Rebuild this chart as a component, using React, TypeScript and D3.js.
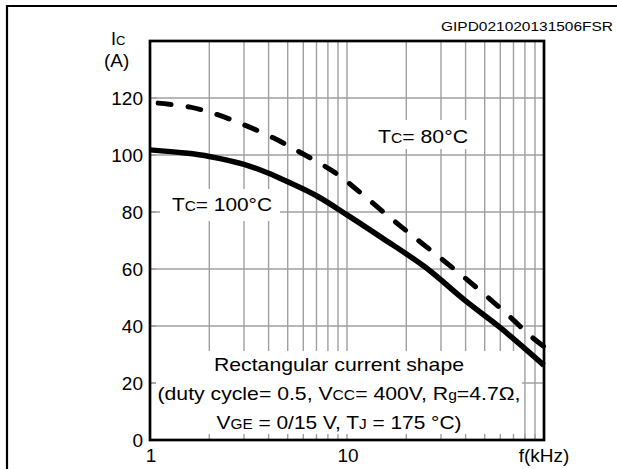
import React from 'react';
import * as d3 from 'd3';

// Tc = 100°C (solid) : f in kHz, Ic in A
const freq100 = [1, 1.5, 2, 3, 4, 5, 7, 10, 15, 25, 40, 60, 100];
const ic100 = [101.8, 100.7, 99.5, 96.7, 93.6, 90.6, 85.7, 79.0, 71.0, 60.6, 48.8, 39.4, 26.2];

// Tc = 80°C (dashed)
const freq80 = [1.1, 1.6, 2.1, 2.9, 4.2, 5.9, 8.7, 11.6, 15.4, 20.6, 27.6, 37, 49.7, 66.5, 86.8, 100];
const ic80 = [118.2, 116.8, 114.6, 111.0, 106.1, 100.6, 93.8, 87.0, 79.8, 72.7, 65.7, 58.6, 51.2, 43.5, 36.1, 32.8];

const yTicks = [0, 20, 40, 60, 80, 100, 120];
const xTickLabels = [1, 10];

const W = 617;
const H = 469;
const FONT = '"Liberation Sans", Arial, Helvetica, sans-serif';

const x = d3.scaleLog().domain([1, 100]).range([150, 544]);
const y = d3.scaleLinear().domain([0, 140]).range([440, 41]);

// minor log grid: 2..9, 10, 20..90
const xGrid = d3.range(2, 10).concat([10]).concat(d3.range(20, 100, 10));
const yGrid = yTicks.filter((v) => v > 0);

const line = d3
  .line<[number, number]>()
  .x((d) => x(d[0]))
  .y((d) => y(d[1]))
  .curve(d3.curveCatmullRom.alpha(0.5));

const path100 = line(freq100.map((f, i) => [f, ic100[i]] as [number, number])) || '';
const path80 = line(freq80.map((f, i) => [f, ic80[i]] as [number, number])) || '';

const Sub: React.FC<{ children: React.ReactNode; size?: number }> = ({ children, size = 14 }) => (
  <tspan fontSize={size}>{children}</tspan>
);

const App: React.FC = () => {
  const [x0, x1] = x.range();
  const [yb, yt] = y.range();
  const cx = 339;
  return (
    <svg
      width={W}
      height={H}
      viewBox={`0 0 ${W} ${H}`}
      style={{ position: 'absolute', left: 0, top: 0, background: '#fff' }}
      fontFamily={FONT}
    >
      {/* outer frame */}
      <path d={`M7,${H} V6 H${W}`} fill="none" stroke="#000" strokeWidth={2.2} />

      <text x={613} y={31} fontSize={13} textAnchor="end" textLength={172} lengthAdjust="spacingAndGlyphs">
        GIPD021020131506FSR
      </text>

      {/* grid */}
      <g stroke="#a0a0a0" strokeWidth={1.4}>
        {xGrid.map((v) => (
          <line key={'gx' + v} x1={x(v)} x2={x(v)} y1={yt} y2={yb} />
        ))}
        {yGrid.map((v) => (
          <line key={'gy' + v} x1={x0} x2={x1} y1={y(v)} y2={y(v)} />
        ))}
      </g>

      {/* white label backgrounds */}
      <g fill="#fff">
        <rect x={370} y={120} width={106} height={29} />
        <rect x={160} y={189} width={120} height={32} />
        <rect x={156} y={351} width={366} height={89} />
      </g>

      {/* short inner ticks */}
      <g stroke="#a0a0a0" strokeWidth={1.4}>
        {xGrid.map((v) => (
          <line key={'tx' + v} x1={x(v)} x2={x(v)} y1={yb} y2={yb - 6} />
        ))}
        {yGrid.map((v) => (
          <line key={'ty' + v} x1={x0} x2={x0 + 6} y1={y(v)} y2={y(v)} />
        ))}
      </g>

      {/* curves */}
      <path d={path80} fill="none" stroke="#000" strokeWidth={5} strokeDasharray="13,17" strokeLinecap="round" />
      <path d={path100} fill="none" stroke="#000" strokeWidth={5.5} strokeLinejoin="round" />

      {/* plot frame */}
      <rect x={x0} y={yt} width={x1 - x0} height={yb - yt} fill="none" stroke="#000" strokeWidth={2.7} />

      {/* y tick labels */}
      <g fontSize={19} textAnchor="end">
        {yTicks.map((v) => (
          <text key={'yl' + v} x={143} y={y(v) + 7}>
            {v}
          </text>
        ))}
      </g>
      {/* x tick labels */}
      <g fontSize={19} textAnchor="middle">
        {xTickLabels.map((v) => (
          <text key={'xl' + v} x={x(v) + 1} y={462}>
            {v}
          </text>
        ))}
        <text x={544} y={462}>f(kHz)</text>
      </g>

      {/* axis title */}
      <text x={111} y={45} fontSize={18}>
        I<Sub size={13}>C</Sub>
      </text>
      <text x={104} y={67} fontSize={19}>
        (A)
      </text>

      {/* curve labels */}
      <text x={378} y={143} fontSize={19} textLength={90} lengthAdjust="spacingAndGlyphs">
        T<Sub>C</Sub>= 80°C
      </text>
      <text x={172} y={211} fontSize={19} textLength={100} lengthAdjust="spacingAndGlyphs">
        T<Sub>C</Sub>= 100°C
      </text>

      {/* conditions */}
      <g fontSize={19} textAnchor="middle">
        <text x={cx} y={371} textLength={250} lengthAdjust="spacingAndGlyphs">
          Rectangular current shape
        </text>
        <text x={cx} y={400} textLength={363} lengthAdjust="spacingAndGlyphs">
          (duty cycle= 0.5, V<Sub>CC</Sub>= 400V, R<Sub>g</Sub>=4.7Ω,
        </text>
        <text x={cx} y={429} textLength={245} lengthAdjust="spacingAndGlyphs">
          V<Sub>GE</Sub> = 0/15 V, T<Sub>J</Sub> = 175 °C)
        </text>
      </g>
    </svg>
  );
};

export default App;
